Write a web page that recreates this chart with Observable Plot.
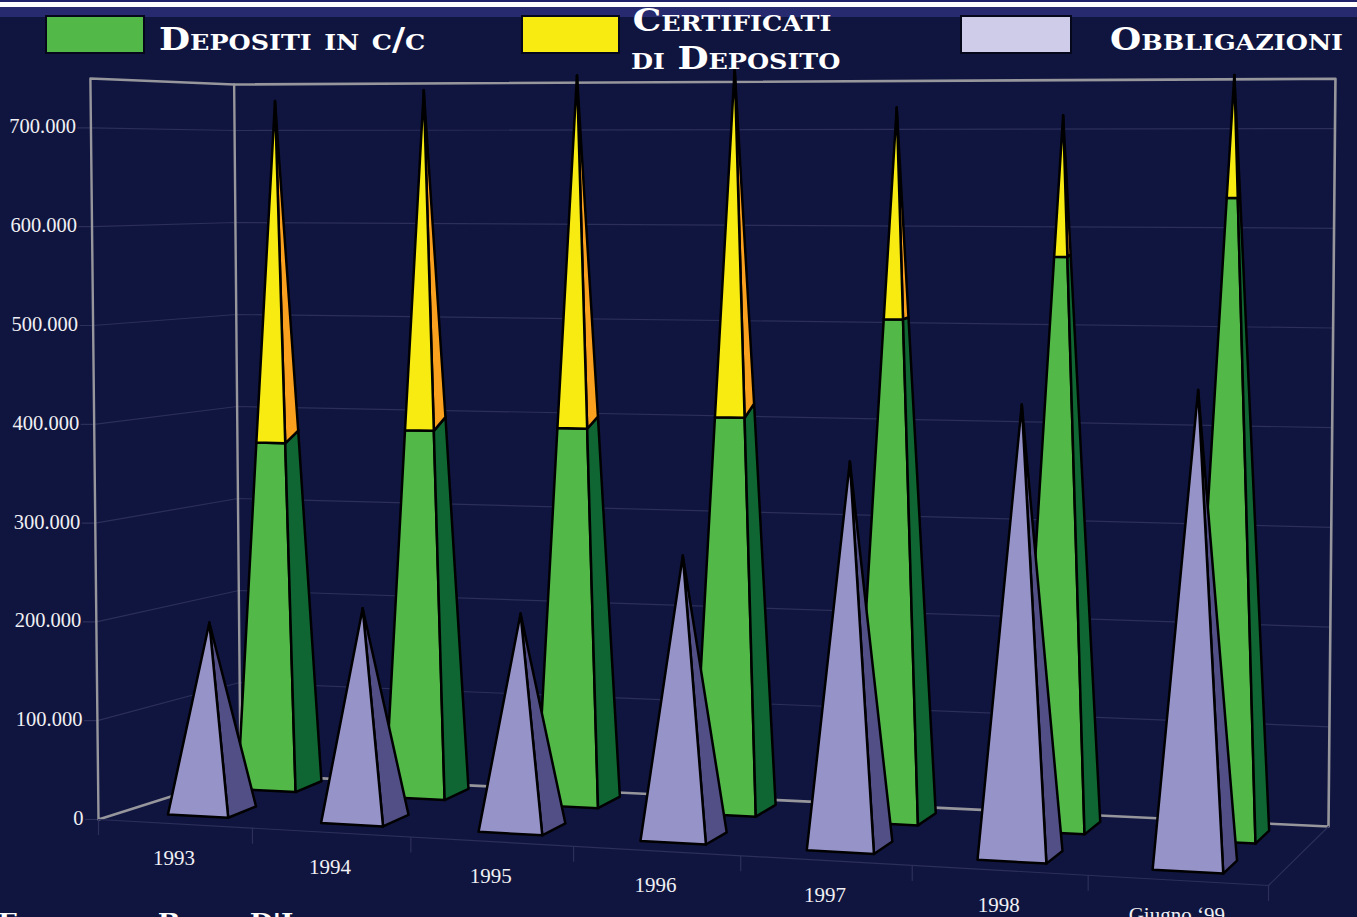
<!DOCTYPE html>
<html><head><meta charset="utf-8">
<script src="https://cdn.jsdelivr.net/npm/d3@7"></script>
<script src="https://cdn.jsdelivr.net/npm/@observablehq/plot@0.6"></script>
<style>
html,body{margin:0;padding:0;background:#10153f;overflow:hidden;width:1357px;height:917px}
#wrap{position:relative;width:1357px;height:917px;overflow:hidden}
#wrap svg{position:absolute;left:0;top:0}
.bar{position:absolute;left:0;width:1357px}
.sw{position:absolute;box-sizing:border-box;border:2px solid #05071a}
.lg{position:absolute;color:#fff;font-family:"DejaVu Serif";font-weight:700;font-variant:small-caps;font-size:31px;line-height:38px;white-space:nowrap;text-align:center;transform:scaleX(1.155);transform-origin:0 0}
</style></head><body><div id="wrap"></div>
<script>
// --- data (thousands) ---
const categories = ["1993","1994","1995","1996","1997","1998","Giugno ‘99"];
const depositi = [367,384,390,405,508,573,633];
const certificati = [364,358,367,359,215,142,122];
const obbligazioni = [193,214,215,279,377,437,455];
const valueTicks = [0,100,200,300,400,500,600,700];
const valueMax = 750;

// --- 3D projection of the chart box ---
const FL=[98,819],FR=[1268,885],BL=[240,774],BR=[1328,826];
const lerp=(a,b,k)=>a+(b-a)*k;
const warp=u=>{const r=u/categories.length;return .908*r+.092*r*r;};
const scaleAt=(t,v)=>lerp(lerp(.988,1.07,t),lerp(.92,.997,t),v);
function project(t,v,h){
  const x0=lerp(lerp(FL[0],FR[0],t),lerp(BL[0],BR[0],t),v);
  const y0=lerp(lerp(FL[1],FR[1],t),lerp(BL[1],BR[1],t),v);
  return {x:x0+(x0-760)/570*0.0093*h,y:y0-scaleAt(t,v)*h};
}
const halfWidth=.198;
function pyramid(i,o){
  const u=i+.5,t0=warp(u),k=1-t0;
  const tc=t0-o.c*k,tL=warp(u-halfWidth)-o.f*k,tR=warp(u+halfWidth)-o.f*k,tB=warp(u+halfWidth)-o.b*k;
  const vf=lerp(o.v[0],o.v[2],t0),vb=lerp(o.v[1],o.v[3],t0),vc=(vf+vb)/2;
  return (cx,f,h)=>{
    const c={fl:[tL,vf],fr:[tR,vf],br:[tB,vb]}[cx];
    return project(lerp(c[0],tc,f),lerp(c[1],vc,f),h);
  };
}
const face=(pts,fill)=>Plot.line(pts,{x:"x",y:"y",fill,stroke:"#000",strokeWidth:2.5,curve:"linear-closed",strokeLinejoin:"round"});

const marks=[];
const wall="#96969c",faint="#2b2f5a";
const seg=(pts,stroke,strokeWidth)=>Plot.line(pts,{x:"x",y:"y",stroke,strokeWidth});
for(const v of valueTicks){
  marks.push(seg([{x:project(0,0,v).x-13,y:project(0,0,v).y},project(0,0,v),project(0,1,v),project(1,1,v)],faint,1.2));
}
marks.push(seg([project(0,0,0),project(0,0,valueMax),project(0,1,valueMax),project(0,1,0),project(0,0,0)],wall,2.4));
marks.push(seg([project(0,1,0),project(1,1,0),project(1,1,valueMax),project(0,1,valueMax)],wall,2.6));
marks.push(seg([project(0,0,0),project(1,0,0),project(1,1,0)],faint,1.2));
d3.range(categories.length+1).forEach(i=>{
  const p=project(warp(i),0,0);
  marks.push(seg([p,{x:p.x,y:p.y+15}],faint,1.2));
});
// rise of the joint's rear corner, in value units
const jointLean=[11,12,10,12,1,2,2];
categories.forEach((c,i)=>{
  const P=pyramid(i,{v:[.72,.95,.66,.88],c:.0075,f:.006,b:.011});
  const total=depositi[i]+certificati[i],d=depositi[i],f=d/total,db=d+jointLean[i];
  marks.push(face([P("fl",0,0),P("fr",0,0),P("fr",f,d),P("fl",f,d)],"#52b848"));
  marks.push(face([P("fr",0,0),P("br",0,0),P("br",f,db),P("fr",f,d)],"#0f6632"));
  marks.push(face([P("br",f,db),P("fr",f,d),P("fr",1,total)],"#f9a01e"));
  marks.push(face([P("fl",f,d),P("fr",f,d),P("fr",1,total)],"#f7eb12"));
});
categories.forEach((c,i)=>{
  const P=pyramid(i,{v:[.17,.41,.15,.37],c:.003,f:0,b:.004}),h=obbligazioni[i];
  marks.push(face([P("fr",0,0),P("br",0,0),P("fr",1,h)],"#514f85"));
  marks.push(face([P("fl",0,0),P("fr",0,0),P("fr",1,h)],"#9693c8"));
});
marks.push(Plot.text(valueTicks,{
  x:v=>project(0,0,v).x-15,y:v=>project(0,0,v).y-1,
  text:v=>v===0?"0":`${v}.000`,
  textAnchor:"end",fill:"#f0f0f4",fontSize:20.5,fontFamily:"Liberation Serif"}));
marks.push(Plot.text(categories,{
  x:(c,i)=>project(warp(i+.5),0,0).x-1,y:(c,i)=>project(warp(i+.5),0,0).y+34.7,
  text:c=>c,textAnchor:"middle",fill:"#f0f0f4",fontSize:21,fontFamily:"Liberation Serif"}));

const chart=Plot.plot({width:1357,height:917,margin:0,
  x:{domain:[0,1357],range:[0,1357],axis:null},
  y:{domain:[0,917],range:[0,917],axis:null},
  style:{background:"transparent",overflow:"hidden"},marks});
const wrap=document.getElementById("wrap");
const el=(cls,css,txt)=>{const d=document.createElement("div");d.className=cls;d.style.cssText=css;if(txt)d.innerHTML=txt;wrap.appendChild(d);};
el("bar","top:0;height:2px;background:#1f2268");
el("bar","top:2px;height:5px;background:#fff");
el("bar","top:7px;height:10px;background:#272a6e");
wrap.appendChild(chart);
el("sw","left:45px;top:15px;width:100px;height:39px;background:#52b848");
el("sw","left:521px;top:15px;width:99px;height:39px;background:#f7eb12");
el("sw","left:960px;top:15px;width:112px;height:39px;background:#cecce8");
el("lg","left:159px;top:20px","Depositi in c/c");
el("lg","left:631px;top:1px;width:175px","Certificati<br>di Deposito");
el("lg","left:1110px;top:20px","Obbligazioni");
el("lg","left:-2px;top:902px;font-size:23px","Fonte dati: Banca D'Italia");
</script></body></html>
